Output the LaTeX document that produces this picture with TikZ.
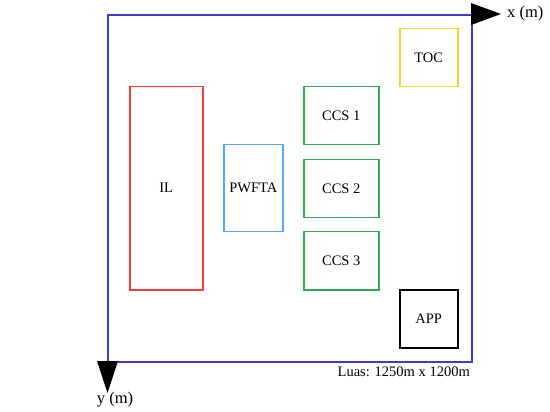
\documentclass[tikz,border=0pt]{standalone}
\usepackage{fontspec}
\setmainfont{Liberation Serif}
\definecolor{bordblue}{HTML}{3C3CC8}
\definecolor{ilred}{HTML}{F03C3C}
\definecolor{pwblue}{HTML}{55AAF0}
\definecolor{ccsgreen}{HTML}{30AA50}
\definecolor{tocyellow}{HTML}{EED830}
\begin{document}
\begin{tikzpicture}[x=1pt,y=-1pt,
  zone/.style={draw,line width=1.5pt,inner sep=0pt,font=\fontsize{14.5}{16}\selectfont},
  lbl/.style={inner sep=0pt,font=\fontsize{14.5}{16}\selectfont},
  axl/.style={inner sep=0pt,font=\fontsize{16.5}{18}\selectfont},
  tri/.style={fill=black,draw=none}]
\useasboundingbox (0,0) rectangle (550,412);
% site border
\node[draw=bordblue,line width=2pt,minimum width=364pt,minimum height=347pt,inner sep=0pt,anchor=north west] (site) at (107,14) {};
% axes arrows
\coordinate (xo) at (site.north east);
\coordinate (yo) at (site.south west);
\fill[tri] (471,3) -- (501,14) -- (471,25) -- cycle;
\fill[tri] (97,361) -- (107.5,393) -- (118,361) -- cycle;
\node[axl,anchor=west] (xl) at (507,14) {x (m)};
\node[axl] (yl) at (115,400) {y (m)};
% zones
\node[zone,draw=ilred,minimum width=73pt,minimum height=203pt,anchor=north west] (il) at (129,86) {IL};
\node[zone,draw=pwblue,minimum width=59pt,minimum height=87pt,anchor=north west] (pw) at (223,144) {PWFTA};
\node[zone,draw=ccsgreen,minimum width=75pt,minimum height=58pt,anchor=north west] (c1) at (303,86) {CCS 1};
\node[zone,draw=ccsgreen,minimum width=75pt,minimum height=58pt,anchor=north west] (c2) at (303,159) {CCS 2};
\node[zone,draw=ccsgreen,minimum width=75pt,minimum height=58pt,anchor=north west] (c3) at (303,231) {CCS 3};
\node[zone,draw=tocyellow,minimum width=58pt,minimum height=58pt,anchor=north west] (toc) at (399,28) {TOC};
\node[zone,draw=black,minimum width=58pt,minimum height=58pt,anchor=north west] (app) at (399,289) {APP};
\node[lbl,anchor=east] (area) at (470,372) {Luas: 1250m x 1200m};
\end{tikzpicture}
\end{document}
